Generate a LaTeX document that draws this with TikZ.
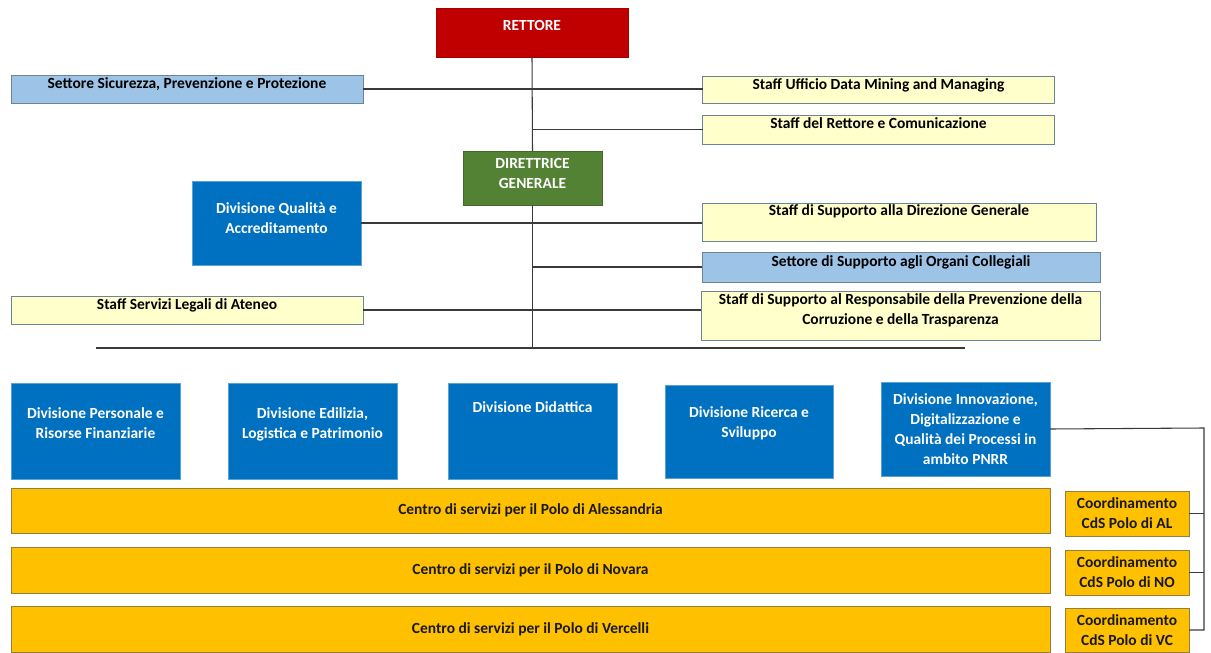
\documentclass[tikz,border=0pt]{standalone}
\usepackage{fontspec}
\setmainfont{Carlito}
\usetikzlibrary{calc, positioning}

\definecolor{rettorered}{HTML}{C00000}
\definecolor{dggreen}{HTML}{548235}
\definecolor{divblue}{HTML}{0070C0}
\definecolor{settoreblue}{HTML}{9DC3E6}
\definecolor{staffyellow}{HTML}{FFFFCC}
\definecolor{poloorange}{HTML}{FFC000}
\definecolor{edgegray}{HTML}{6F8396}
\definecolor{edgeolive}{HTML}{8F8040}
\definecolor{wire}{HTML}{3A3A3A}

\tikzset{
    boxsize/.style 2 args={minimum width=#1*0.75pt, minimum height=#2*0.75pt},
    lift/.style={text depth=#1},
    orgbox/.style={draw, inner sep=0pt, outer sep=0pt, line width=0.6pt,
        align=center, font=\fontsize{11.6}{15}\selectfont\bfseries},
    headbox/.style={orgbox, fill=rettorered, draw=rettorered!85!black, text=white},
    dgbox/.style={orgbox, fill=dggreen, draw=dggreen!80!black, text=white},
    divbox/.style={orgbox, fill=divblue, draw=divblue!65!white, text=white},
    settorebox/.style={orgbox, fill=settoreblue, draw=edgegray, text=black},
    staffbox/.style={orgbox, fill=staffyellow, draw=edgegray, text=black},
    polobox/.style={orgbox, fill=poloorange, draw=edgeolive, text=black!90},
    wire/.style={draw=wire, line width=0.8pt}
}

\begin{document}
\begin{tikzpicture}[x=0.75pt, y=-0.75pt]
\useasboundingbox (0,0) rectangle (1211,653);

% Vertici
\node[headbox, boxsize={192}{49}, lift=11pt] (rettore) at (532,32.5) {RETTORE};
\node[dgbox, boxsize={139}{54}, lift=7.5pt] (direttrice) at (532.5,178) {DIRETTRICE\\GENERALE};

% Staff e settori
\node[settorebox, boxsize={352}{28}, lift=9pt] (sicurezza) at (187,89) {Settore Sicurezza, Prevenzione e Protezione};
\node[staffbox, boxsize={352}{27}, lift=8.5pt] (datamining) at (878.5,89.5) {Staff Ufficio Data Mining and Managing};
\node[staffbox, boxsize={352}{29}, lift=9pt] (staffrettore) at (878.5,129.5) {Staff del Rettore e Comunicazione};
\node[divbox, boxsize={169}{84}, lift=8pt] (qualita) at (276.5,223) {Divisione Qualità e\\Accreditamento};
\node[staffbox, boxsize={394}{38}, lift=18pt] (staffdg) at (899,222) {Staff di Supporto alla Direzione Generale};
\node[settorebox, boxsize={398}{30}, lift=9.5pt] (organi) at (901,267) {Settore di Supporto agli Organi Collegiali};
\node[staffbox, boxsize={352}{28}, lift=9.5pt] (legali) at (187,310) {Staff Servizi Legali di Ateneo};
\node[staffbox, boxsize={399}{49}, lift=10pt] (responsabile) at (900.5,315.5) {Staff di Supporto al Responsabile della Prevenzione della\\Corruzione e della Trasparenza};

% Divisioni
\node[divbox, boxsize={169}{96}, lift=12pt] (personale) at (95.5,431) {Divisione Personale e\\Risorse Finanziarie};
\node[divbox, boxsize={169}{96}, lift=12pt] (edilizia) at (312.5,431) {Divisione Edilizia,\\Logistica e Patrimonio};
\node[divbox, boxsize={169}{96}, lift=36pt] (didattica) at (532.5,431) {Divisione Didattica};
\node[divbox, boxsize={168}{93}, lift=14pt] (ricerca) at (749,431.5) {Divisione Ricerca e\\Sviluppo};
\node[divbox, boxsize={169}{94}] (innovazione) at (965.5,429) {Divisione Innovazione,\\Digitalizzazione e\\Qualità dei Processi in\\ambito PNRR};

% Poli
\node[polobox, boxsize={1039}{45}] (alessandria) at (530.5,510.5) {Centro di servizi per il Polo di Alessandria};
\node[polobox, boxsize={1039}{46}] (novara) at (530.5,570) {Centro di servizi per il Polo di Novara};
\node[polobox, boxsize={1039}{46}] (vercelli) at (530.5,629) {Centro di servizi per il Polo di Vercelli};
\node[polobox, boxsize={124}{45}] (coordAL) at (1127,513.5) {Coordinamento\\CdS Polo di AL};
\node[polobox, boxsize={124}{45}] (coordNO) at (1127,572.5) {Coordinamento\\CdS Polo di NO};
\node[polobox, boxsize={124}{44}] (coordVC) at (1127,630) {Coordinamento\\CdS Polo di VC};

% Collegamenti
\coordinate (busL) at (96,348);
\coordinate (busR) at (965,348);
\coordinate (railtop) at (1204,428);

\draw[wire] (rettore.south) -- (direttrice.north);
\draw[wire] (direttrice.south) -- (direttrice.south |- busL);
\draw[wire] (busL) -- (busR);
\draw[wire] (sicurezza.east) -- (sicurezza.east -| datamining.west);
\draw[wire] (staffrettore.west -| rettore.south) -- (staffrettore.west);
\draw[wire] (qualita.east) -- (qualita.east -| staffdg.west);
\draw[wire] (organi.west -| direttrice.south) -- (organi.west);
\draw[wire] (legali.east) -- (legali.east -| responsabile.west);

\draw[wire] (innovazione.east) -- (railtop) -- (railtop |- coordVC.east) -- (coordVC.east);
\draw[wire] (coordAL.east) -- (coordAL.east -| railtop);
\draw[wire] (coordNO.east) -- (coordNO.east -| railtop);
\end{tikzpicture}
\end{document}
